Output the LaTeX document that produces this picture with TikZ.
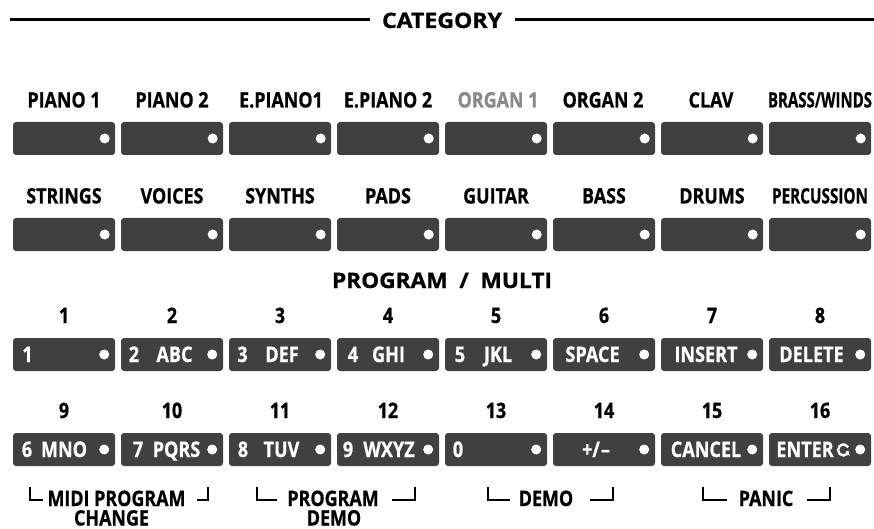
\documentclass[tikz,border=0pt]{standalone}
\usepackage{fontspec}
\setmainfont{Open Sans}[FakeStretch=0.84, BoldFont={Open Sans Bold}, BoldFeatures={FakeStretch=0.84, FakeBold=0.7}]
\usetikzlibrary{arrows.meta}
\definecolor{btngray}{HTML}{404040}
\definecolor{dimgray}{HTML}{8A8A8A}
\begin{document}
\begin{tikzpicture}[x=1pt,y=-1pt,
  btn/.style={fill=btngray, rounded corners=3pt, minimum width=102pt, minimum height=33pt, inner sep=0pt, draw=none},
  lbl/.style={font=\bfseries\fontsize{21.3}{22}\selectfont, inner sep=0pt, anchor=base},
  btxt/.style={font=\bfseries\fontsize{21.5}{22}\selectfont, text=white, inner sep=0pt, anchor=base},
  ledot/.style={circle, fill=white, minimum size=10pt, inner sep=0pt},
  brk/.style={line width=1.8pt},
  rule/.style={line width=3pt},
]
\useasboundingbox (0,0) rectangle (874,529);

% title
\node[lbl] (title) at (442,28) {\resizebox{120pt}{\height}{CATEGORY}};
\coordinate (rl) at (10,20);
\coordinate (rr) at (874,20);
\draw[rule] (rl) -- (370,20);
\draw[rule] (515,20) -- (rr);

% button rows
\foreach \i in {1,...,8} {
  \node[btn] (a\i) at ({64+108*(\i-1)},138.5) {};
  \node[ledot] (ad\i) at ([xshift=-10.5pt]a\i.east) {};
  \node[btn] (b\i) at ({64+108*(\i-1)},234.5) {};
  \node[ledot] (bd\i) at ([xshift=-10.5pt]b\i.east) {};
  \node[btn] (c\i) at ({64+108*(\i-1)},354.5) {};
  \node[ledot] (cd\i) at ([xshift=-11pt]c\i.east) {};
  \node[btn] (d\i) at ({64+108*(\i-1)},449.5) {};
  \node[ledot] (dd\i) at ([xshift=-11pt]d\i.east) {};
}

% row 1 labels
\node[lbl] (la1) at (64,107.5) {PIANO 1};
\node[lbl] (la2) at (172,107.5) {PIANO 2};
\node[lbl] (la3) at (281,107.5) {E.PIANO1};
\node[lbl] (la4) at (388,107.5) {E.PIANO 2};
\node[lbl, text=dimgray] (la5) at (498,107.5) {ORGAN 1};
\node[lbl] (la6) at (603,107.5) {ORGAN 2};
\node[lbl] (la7) at (711,107.5) {CLAV};
\node[lbl] (la8) at (820,107.5) {\resizebox{104pt}{\height}{BRASS/WINDS}};

% row 2 labels
\node[lbl] (lb1) at (64,203.5) {STRINGS};
\node[lbl] (lb2) at (172,203.5) {VOICES};
\node[lbl] (lb3) at (280,203.5) {SYNTHS};
\node[lbl] (lb4) at (388,203.5) {PADS};
\node[lbl] (lb5) at (496,203.5) {GUITAR};
\node[lbl] (lb6) at (604,203.5) {BASS};
\node[lbl] (lb7) at (712,203.5) {DRUMS};
\node[lbl] (lb8) at (820,203.5) {\resizebox{96pt}{\height}{PERCUSSION}};

\node[lbl] (pm) at (442,288) {\resizebox{220pt}{\height}{PROGRAM \ / \ MULTI}};

% number labels
\foreach \i in {1,...,8} {
  \node[lbl] (nc\i) at ({64+108*(\i-1)},323) {\i};
}
\foreach \i [evaluate=\i as \n using int(\i+8)] in {1,...,8} {
  \node[lbl] (nd\i) at ({64+108*(\i-1)},418) {\n};
}

% row 3 button texts
\node[btxt] (t1) at (27.5,362) {1};
\node[btxt] (t2a) at (134,362) {2};
\node[btxt] (t2b) at (174.5,362) {ABC};
\node[btxt] (t3a) at (242.5,362) {3};
\node[btxt] (t3b) at (282,362) {DEF};
\node[btxt] (t4a) at (353,362) {4};
\node[btxt] (t4b) at (388.5,362) {GHI};
\node[btxt] (t5a) at (460,362) {5};
\node[btxt] (t5b) at (498,362) {JKL};
\node[btxt] (t6) at (592.5,362) {SPACE};
\node[btxt] (t7) at (706,362) {INSERT};
\node[btxt] (t8) at (811.5,362) {DELETE};

% row 4 button texts
\node[btxt] (u1a) at (27,457) {6};
\node[btxt] (u1b) at (64,457) {MNO};
\node[btxt] (u2a) at (138,457) {7};
\node[btxt] (u2b) at (176.5,457) {PQRS};
\node[btxt] (u3a) at (243,457) {8};
\node[btxt] (u3b) at (281.5,457) {TUV};
\node[btxt] (u4a) at (348,457) {9};
\node[btxt] (u4b) at (389,457) {WXYZ};
\node[btxt] (u5) at (458,457) {0};
\node[btxt] (u6) at (596,457) {+/\kern1pt–};
\node[btxt] (u7) at (706,457) {CANCEL};
\node[btxt] (u8) at (805,457) {ENTER};
\coordinate (ent) at (843.5,450);
\draw[white, line width=2.4pt] ([shift={(45:5.5)}]ent) arc[start angle=45, end angle=330, radius=5.5];
\fill[white] ([shift={(45:2.5)}]ent) -- ([shift={(45:8.8)}]ent) -- ([shift={(8:5)}]ent) -- cycle;

% brackets and group labels
\draw[brk] (30,487) -- (30,500) -- (43,500);
\draw[brk] (197,500) -- (208,500) -- (208,487);
\node[lbl] (g1) at (116.5,506) {MIDI PROGRAM};
\node[lbl] (g1b) at (111.5,525.5) {CHANGE};

\draw[brk] (257,487) -- (257,500) -- (277,500);
\draw[brk] (392,500) -- (415,500) -- (415,487);
\node[lbl] (g2) at (333,506) {PROGRAM};
\node[lbl] (g2b) at (334,525.5) {DEMO};

\draw[brk] (488,487) -- (488,500) -- (510,500);
\draw[brk] (590,500) -- (613,500) -- (613,487);
\node[lbl] (g3) at (546,506) {DEMO};

\draw[brk] (703,487) -- (703,500) -- (727,500);
\draw[brk] (807,500) -- (830,500) -- (830,487);
\node[lbl] (g4) at (766,506) {PANIC};
\end{tikzpicture}
\end{document}
